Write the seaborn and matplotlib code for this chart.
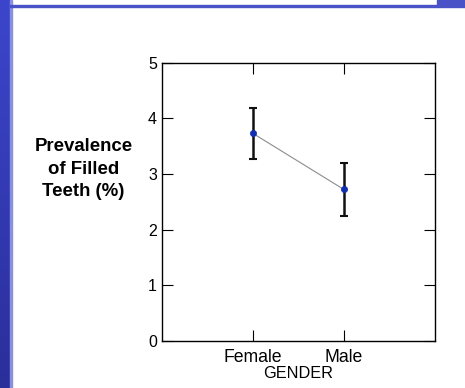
import numpy as np
import pandas as pd
import matplotlib
matplotlib.use("Agg")
import matplotlib.pyplot as plt
import seaborn as sns
from matplotlib.patches import Rectangle
from matplotlib.colors import LinearSegmentedColormap

genders = ["Female", "Male"]
means = [3.73, 2.72]
lower = [3.26, 2.24]
upper = [4.18, 3.19]
yticks = [0, 1, 2, 3, 4, 5]

sns.set_theme(style="white")
plt.rcParams['font.family'] = ['Liberation Sans', 'DejaVu Sans']

W, H = 465, 388
fig = plt.figure(figsize=(W / 100, H / 100), dpi=100)
fig.patch.set_facecolor("white")

# decorative slide frame
grad = np.linspace(0, 1, 256).reshape(-1, 1)
cmap = LinearSegmentedColormap.from_list("b", ["#2a2f9a", "#3c46cc"])
bax = fig.add_axes([0, 0, 10 / W, 1])
bax.imshow(grad, aspect="auto", cmap=cmap, origin="lower")
bax.set_axis_off()
fig.patches.append(Rectangle((10 / W, 0), 1.5 / W, 1, transform=fig.transFigure,
                             color="#8a90e0", zorder=5))
fig.patches.append(Rectangle((10 / W, 1 - 7 / H), 427 / W, 2.5 / H, transform=fig.transFigure,
                             color="#4a52c8", zorder=5))
fig.patches.append(Rectangle((437 / W, 1 - 7 / H), 28 / W, 7 / H, transform=fig.transFigure,
                             color="#4a52c8", zorder=5))

ax = fig.add_axes([161.7 / W, 1 - 340.7 / H, 273.3 / W, 278 / H])
df = pd.DataFrame({"GENDER": genders, "value": means})
sns.pointplot(data=df, x="GENDER", y="value", ax=ax, errorbar=None,
              color="#8c8c8c", linewidth=0.8, markers="o", markersize=0)
pos = np.arange(len(genders))
m = np.array(means)
ax.errorbar(pos, m, yerr=[m - np.array(lower), np.array(upper) - m], fmt="none",
            ecolor="#111111", elinewidth=1.8, capsize=3, capthick=1.5, zorder=3)
sns.scatterplot(x=pos, y=m, ax=ax, color="#1030b0", s=20, edgecolor="#1030b0",
                linewidth=0.5, zorder=4)

ax.set_xlim(-1, 2)
ax.set_ylim(0, 5)
ax.set_yticks(yticks)
ax.set_xticks(pos)
ax.set_xticklabels(genders)
for s in ax.spines.values():
    s.set_visible(True)
    s.set_color("black")
    s.set_linewidth(1.0)
ax.tick_params(axis="both", which="both", direction="in", length=8, width=0.8,
               color="black", top=True, right=True, bottom=True, left=True,
               labelcolor="black")
ax.tick_params(axis="y", labelsize=11.5, pad=3.5)
ax.tick_params(axis="x", labelsize=12.7, pad=6)
ax.set_xlabel("GENDER", fontsize=11.7, color="black", labelpad=0)
ax.set_ylabel("")
ax.grid(False)

fig.text(83.5 / W, 1 - 169 / H, "Prevalence\nof Filled\nTeeth (%)", ha="center", va="center",
         fontsize=13.4, fontweight="bold", color="black", linespacing=1.39)

fig.savefig("out.png", dpi=100, facecolor="white")
